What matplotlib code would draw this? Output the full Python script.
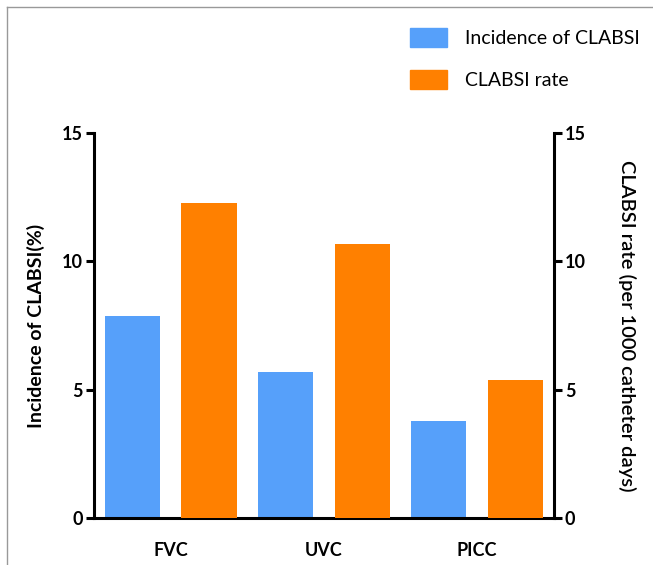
import matplotlib
matplotlib.use("Agg")
import matplotlib.pyplot as plt
from matplotlib.lines import Line2D
from matplotlib.patches import Patch
import numpy as np

categories = ["FVC", "UVC", "PICC"]
incidence = [7.85, 5.7, 3.78]      # Incidence of CLABSI (%)
clabsi_rate = [12.27, 10.67, 5.38]  # per 1000 catheter days
yticks = [0, 5, 10, 15]

blue = "#56A0FA"
orange = "#FF8000"

plt.rcParams['font.family'] = ['Lato', 'DejaVu Sans']

fig = plt.figure(figsize=(6.53, 5.65), dpi=100)
ax = fig.add_axes([0.144, 0.083, 0.704, 0.682])
ax2 = ax.twinx()

idx = np.arange(len(categories))
ax.bar(idx * 2, incidence, width=0.72, color=blue, label="Incidence of CLABSI")
ax2.bar(idx * 2 + 1, clabsi_rate, width=0.72, color=orange, label="CLABSI rate")

for a in (ax, ax2):
    a.set_xlim(-0.5, 5.5)
    a.set_ylim(0, 15)
    a.set_yticks(yticks)
    for s in a.spines.values():
        s.set_linewidth(2.2)
    a.spines['top'].set_visible(False)
    a.tick_params(axis='y', length=6, width=2.2, labelsize=13, pad=2)
    for lab in a.get_yticklabels():
        lab.set_fontweight('bold')

ax.spines['right'].set_visible(False)
ax2.spines['left'].set_visible(False)
ax2.spines['bottom'].set_visible(False)

ax.set_xticks(idx * 2 + 0.5)
ax.set_xticklabels(categories, fontsize=13, fontweight='bold')
ax.tick_params(axis='x', length=0, pad=17)

ax.set_ylabel("Incidence of CLABSI(%)", fontsize=14, fontweight='bold', labelpad=12)
ax2.set_ylabel("CLABSI rate (per 1000 catheter days)", fontsize=14.5, rotation=270,
               fontweight='semibold', labelpad=36)

handles = [Patch(color=blue), Patch(color=orange)]
fig.legend(handles, ["Incidence of CLABSI", "CLABSI rate"], loc='upper left',
           bbox_to_anchor=(0.628, 0.950), frameon=False, fontsize=14,
           borderpad=0, borderaxespad=0,
           handlelength=1.9, handleheight=1.13, handletextpad=0.9, labelspacing=1.15)

# thin grey frame at top and left
fig.add_artist(Line2D([0.011, 1.0], [0.988, 0.988], transform=fig.transFigure,
                      color="#999999", lw=1))
fig.add_artist(Line2D([0.011, 0.011], [0.0, 0.988], transform=fig.transFigure,
                      color="#999999", lw=1))

fig.savefig("out.png", dpi=100)
